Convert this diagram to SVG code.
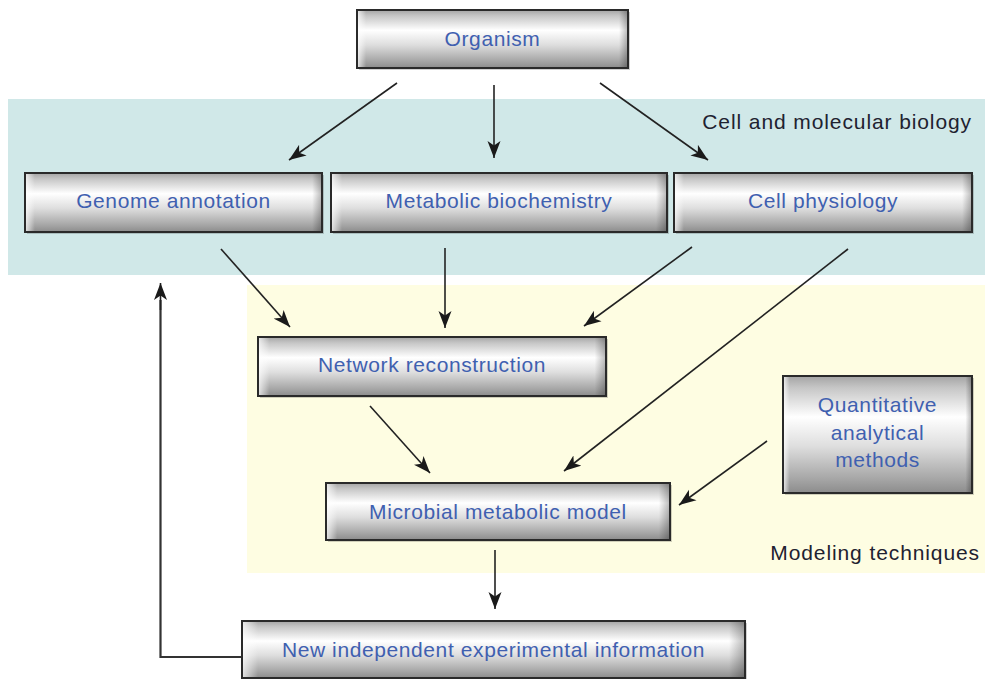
<svg xmlns="http://www.w3.org/2000/svg" width="987" height="679" viewBox="0 0 987 679">
  <defs>
    <linearGradient id="boxV" x1="0" y1="0" x2="0" y2="1">
      <stop offset="0" stop-color="#a4a4a4"/>
      <stop offset="0.1" stop-color="#c6c6c6"/>
      <stop offset="0.35" stop-color="#ffffff"/>
      <stop offset="0.6" stop-color="#dedede"/>
      <stop offset="0.88" stop-color="#a6a6a6"/>
      <stop offset="1" stop-color="#8c8c8c"/>
    </linearGradient>
    <linearGradient id="boxH" x1="0" y1="0" x2="1" y2="0">
      <stop offset="0" stop-color="#ffffff" stop-opacity="0.7"/>
      <stop offset="0.03" stop-color="#ffffff" stop-opacity="0"/>
      <stop offset="0.97" stop-color="#000000" stop-opacity="0"/>
      <stop offset="1" stop-color="#000000" stop-opacity="0.25"/>
    </linearGradient>
    <marker id="arrow" markerUnits="userSpaceOnUse" markerWidth="18" markerHeight="14" refX="17" refY="7" orient="auto">
      <path d="M0,0.5 L17,7 L0,13.5 L4.5,7 Z" fill="#1a1a1a"/>
    </marker>
  </defs>
  <style>
    .bg { fill: #ffffff; }
    .teal { fill: #d0e8e8; }
    .yellow { fill: #fefde2; }
    .shadow { fill: #000000; opacity: 0.18; }
    .box { fill: url(#boxV); stroke: #2a2a2a; stroke-width: 2; }
    .sheen { fill: url(#boxH); stroke: none; }
    .lbl { font-family: "Liberation Sans", Arial, sans-serif; font-size: 21px; fill: #3f60b0; text-anchor: middle; letter-spacing: 0.6px; }
    .region { font-family: "Liberation Sans", Arial, sans-serif; font-size: 21px; fill: #1e2230; text-anchor: end; letter-spacing: 0.9px; }
    .conn { fill: none; stroke: #222222; stroke-width: 1.6; marker-end: url(#arrow); }
    .plain { fill: none; stroke: #333333; stroke-width: 2.2; }
  </style>

  <rect class="bg" x="0" y="0" width="987" height="679"/>

  <g id="regions">
    <rect class="teal" x="8" y="99" width="977" height="176"/>
    <rect class="yellow" x="247" y="285" width="738" height="288"/>
    <text class="region" x="972" y="129">Cell and molecular biology</text>
    <text class="region" x="980" y="560">Modeling techniques</text>
  </g>

  <g id="connectors">
    <line class="conn" x1="397" y1="83" x2="289" y2="160"/>
    <line class="conn" x1="494" y1="85" x2="494" y2="158"/>
    <line class="conn" x1="600" y1="83" x2="708" y2="160"/>
    <line class="conn" x1="221" y1="249" x2="290" y2="327"/>
    <line class="conn" x1="445" y1="248" x2="445" y2="328"/>
    <line class="conn" x1="692" y1="247" x2="584" y2="326"/>
    <line class="conn" x1="848" y1="249" x2="564" y2="471"/>
    <line class="conn" x1="370" y1="406" x2="430" y2="473"/>
    <line class="conn" x1="767" y1="441" x2="679" y2="505"/>
    <line class="conn" x1="495" y1="550" x2="495" y2="609"/>
    <polyline class="plain" points="242,657 160.5,657 160.5,300"/>
    <line class="conn" x1="160.5" y1="310" x2="160.5" y2="283"/>
  </g>

  <g id="organism">
    <rect class="shadow" x="359" y="12" width="271" height="58"/>
    <rect class="box" x="357" y="10" width="271" height="58"/>
    <rect class="sheen" x="358" y="11" width="269" height="56"/>
    <text class="lbl" x="492.5" y="46">Organism</text>
  </g>

  <g id="genome-annotation">
    <rect class="shadow" x="27" y="175" width="297" height="59"/>
    <rect class="box" x="25" y="173" width="297" height="59"/>
    <rect class="sheen" x="26" y="174" width="295" height="57"/>
    <text class="lbl" x="173.5" y="208">Genome annotation</text>
  </g>

  <g id="metabolic-biochemistry">
    <rect class="shadow" x="333" y="175" width="336" height="59"/>
    <rect class="box" x="331" y="173" width="336" height="59"/>
    <rect class="sheen" x="332" y="174" width="334" height="57"/>
    <text class="lbl" x="499" y="208">Metabolic biochemistry</text>
  </g>

  <g id="cell-physiology">
    <rect class="shadow" x="676" y="175" width="298" height="59"/>
    <rect class="box" x="674" y="173" width="298" height="59"/>
    <rect class="sheen" x="675" y="174" width="296" height="57"/>
    <text class="lbl" x="823" y="208">Cell physiology</text>
  </g>

  <g id="network-reconstruction">
    <rect class="shadow" x="260" y="339" width="348" height="59"/>
    <rect class="box" x="258" y="337" width="348" height="59"/>
    <rect class="sheen" x="259" y="338" width="346" height="57"/>
    <text class="lbl" x="432" y="372">Network reconstruction</text>
  </g>

  <g id="quantitative-analytical-methods">
    <rect class="shadow" x="785" y="378" width="189" height="117"/>
    <rect class="box" x="783" y="376" width="189" height="117"/>
    <rect class="sheen" x="784" y="377" width="187" height="115"/>
    <text class="lbl" x="877.5" y="412">Quantitative</text>
    <text class="lbl" x="877.5" y="440">analytical</text>
    <text class="lbl" x="877.5" y="467">methods</text>
  </g>

  <g id="microbial-metabolic-model">
    <rect class="shadow" x="328" y="485" width="344" height="57"/>
    <rect class="box" x="326" y="483" width="344" height="57"/>
    <rect class="sheen" x="327" y="484" width="342" height="55"/>
    <text class="lbl" x="498" y="519">Microbial metabolic model</text>
  </g>

  <g id="new-independent-experimental-information">
    <rect class="shadow" x="244" y="623" width="503" height="57"/>
    <rect class="box" x="242" y="621" width="503" height="57"/>
    <rect class="sheen" x="243" y="622" width="501" height="55"/>
    <text class="lbl" x="493.5" y="657">New independent experimental information</text>
  </g>
</svg>
